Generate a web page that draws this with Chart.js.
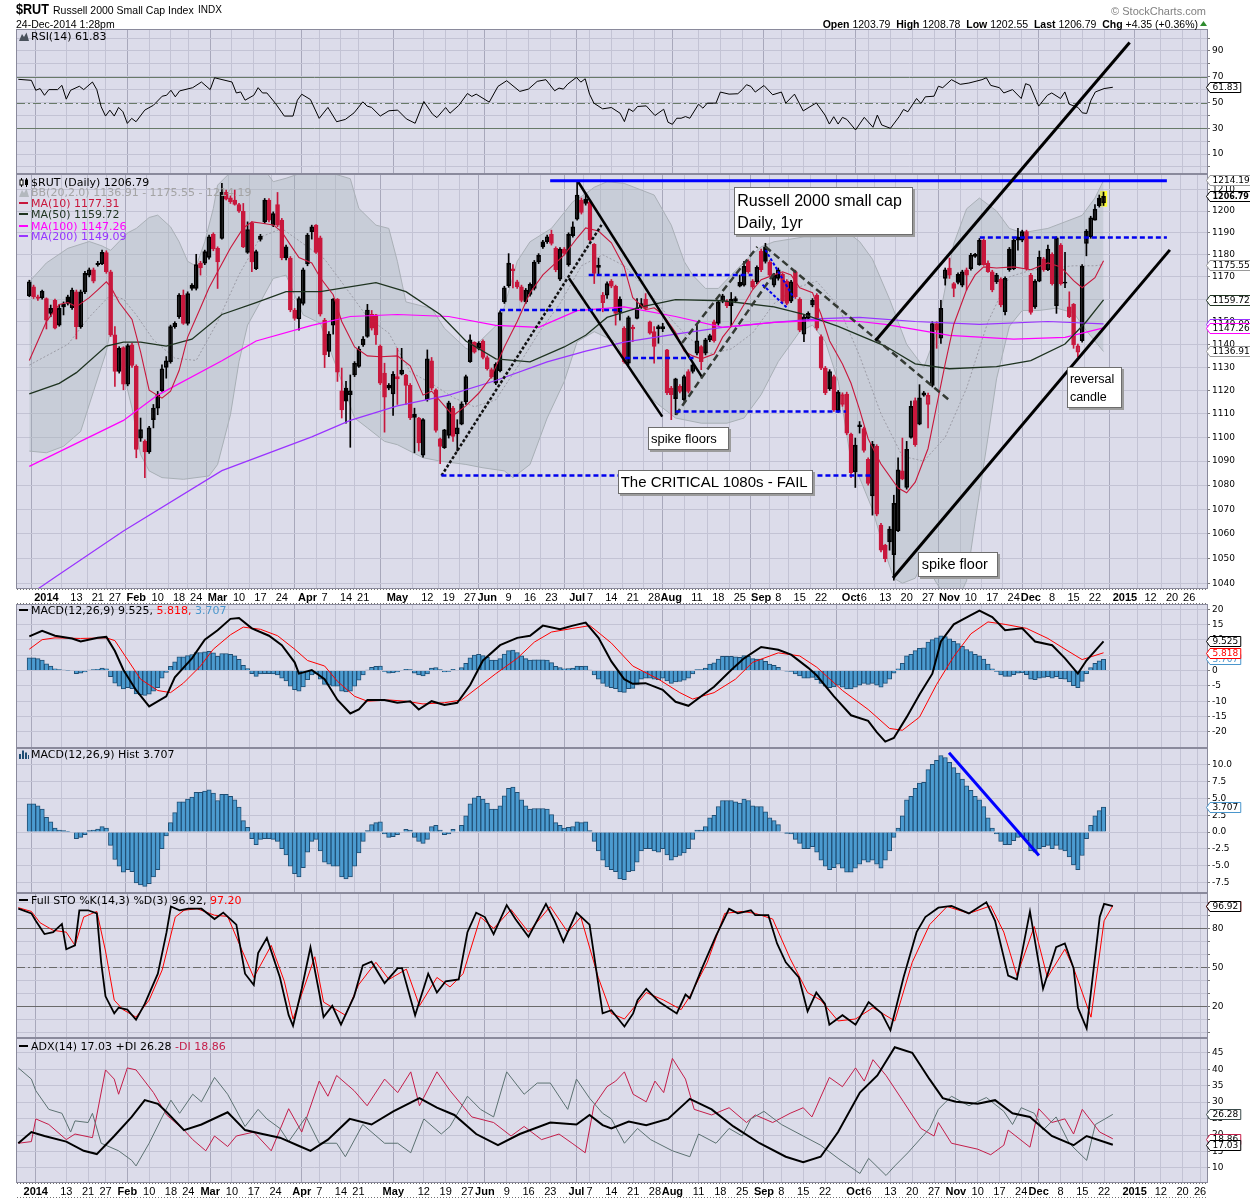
<!DOCTYPE html>
<html><head><meta charset="utf-8">
<script src="https://cdn.jsdelivr.net/npm/chart.js@4.4.1/dist/chart.umd.min.js"></script>
<style>
body{margin:0;background:#fff;}
#wrap{position:relative;width:1250px;height:1200px;overflow:hidden;background:#fff;font-family:"Liberation Sans",Arial,sans-serif;color:#000;}
canvas.pn{position:absolute;left:0;}
.lg{position:absolute;left:19px;font-family:"DejaVu Sans",sans-serif;font-size:11px;line-height:11px;white-space:nowrap;}
.lg svg{vertical-align:-1px;margin-right:2px;}
.dash{display:inline-block;width:9px;height:2px;vertical-align:3px;margin-right:3px;}
.note{position:absolute;box-sizing:border-box;background:#fff;border:1px solid #6d6d6d;box-shadow:2px 2px 0 #9c9c9c;white-space:nowrap;font-family:"Liberation Sans",Arial,sans-serif;color:#000;}
.hd{position:absolute;white-space:nowrap;line-height:12px;}
</style></head>
<body><div id="wrap">

<canvas class="pn" id="cRsi" width="1250" height="145" style="top:29px;width:1250px;height:145px"></canvas>
<canvas class="pn" id="cPrice" width="1250" height="430" style="top:174px;width:1250px;height:430px"></canvas>
<canvas class="pn" id="cMacd" width="1250" height="144" style="top:604px;width:1250px;height:144px"></canvas>
<canvas class="pn" id="cHist" width="1250" height="145" style="top:748px;width:1250px;height:145px"></canvas>
<canvas class="pn" id="cSto" width="1250" height="145" style="top:893px;width:1250px;height:145px"></canvas>
<canvas class="pn" id="cAdx" width="1250" height="160" style="top:1038px;width:1250px;height:160px"></canvas>
<canvas id="overlay" width="1250" height="1200" style="position:absolute;left:0;top:0;width:1250px;height:1200px;pointer-events:none"></canvas>

<div class="hd" style="left:16px;top:2px;font-size:14px;line-height:14px;font-weight:bold;transform:scaleX(0.9);transform-origin:left top;">$RUT</div>
<div class="hd" style="left:53px;top:3.7px;font-size:10.5px;">Russell 2000 Small Cap Index</div>
<div class="hd" style="left:198px;top:3.5px;font-size:10px;">INDX</div>
<div class="hd" style="left:16px;top:17.5px;font-size:10.5px;">24-Dec-2014 1:28pm</div>
<div class="hd" style="right:44px;top:5px;font-size:11px;color:#808080;">&copy; StockCharts.com</div>
<div class="hd" style="right:52px;top:17.5px;font-size:10.5px;"><b>Open</b> 1203.79&nbsp;&nbsp;<b>High</b> 1208.78&nbsp;&nbsp;<b>Low</b> 1202.55&nbsp;&nbsp;<b>Last</b> 1206.79&nbsp;&nbsp;<b>Chg</b> +4.35 (+0.36%)</div>
<svg style="position:absolute;left:1200px;top:21px" width="7" height="5"><polygon points="0,5 3.5,0 7,5" fill="#2e8b2e"/></svg>

<div class="lg" style="top:30.7px"><svg width="10" height="9"><polygon points="0,9 3,2 5,5 7.5,0.5 10,9" fill="#4a525c"/></svg>RSI(14) 61.83</div>
<div class="lg" style="top:176.7px"><svg width="10" height="9"><line x1="2.5" y1="0" x2="2.5" y2="9" stroke="#000"/><rect x="1" y="2" width="3" height="5" fill="#fff" stroke="#000" stroke-width="1"/><line x1="7.5" y1="0" x2="7.5" y2="9" stroke="#000"/><rect x="6" y="1.5" width="3" height="5.5" fill="#000"/></svg>$RUT (Daily) 1206.79</div>
<div class="lg" style="top:187.4px;color:#a4a4a4"><svg width="10" height="9"><polygon points="0,9 3,2 5,5 7.5,0.5 10,9" fill="#b3b8be"/></svg>BB(20,2.0) 1136.91 - 1175.55 - 1214.19</div>
<div class="lg" style="top:198px;color:#c8173c"><span class="dash" style="background:#c8173c"></span>MA(10) 1177.31</div>
<div class="lg" style="top:209.4px;color:#1e3320"><span class="dash" style="background:#1e3320"></span>MA(50) 1159.72</div>
<div class="lg" style="top:220.7px;color:#ff00ff"><span class="dash" style="background:#ff00ff"></span>MA(100) 1147.26</div>
<div class="lg" style="top:231.4px;color:#9933ff"><span class="dash" style="background:#9933ff"></span>MA(200) 1149.09</div>
<div class="lg" style="top:604.6px"><span class="dash" style="background:#000"></span>MACD(12,26,9) 9.525, <span style="color:#ff0000">5.818,</span> <span style="color:#4a96cc">3.707</span></div>
<div class="lg" style="top:749.4px"><svg width="10" height="9"><rect x="0" y="4" width="2" height="5" fill="#1f4e74"/><rect x="3" y="0.5" width="2" height="8.5" fill="#1f4e74"/><rect x="6" y="2.5" width="2" height="6.5" fill="#1f4e74"/><rect x="9" y="5" width="1" height="4" fill="#1f4e74"/></svg>MACD(12,26,9) Hist 3.707</div>
<div class="lg" style="top:894.7px"><span class="dash" style="background:#000"></span>Full STO %K(14,3) %D(3) 96.92, <span style="color:#ff0000">97.20</span></div>
<div class="lg" style="top:1040.7px"><span class="dash" style="background:#000"></span>ADX(14) 17.03 +DI 26.28 <span style="color:#c41e4a">-DI 18.86</span></div>

<div class="note" style="left:734px;top:187px;width:179px;height:48px;font-size:16px;line-height:21.6px;padding:2.3px 0 0 2.3px;">Russell 2000 small cap<br>Daily, 1yr</div>
<div class="note" style="left:647.7px;top:426.7px;width:81.6px;height:23.6px;font-size:13px;line-height:21.6px;padding-left:2.3px;">spike floors</div>
<div class="note" style="left:617.7px;top:470px;width:195.6px;height:24.3px;font-size:15px;line-height:22.3px;padding-left:2px;">The CRITICAL 1080s - FAIL</div>
<div class="note" style="left:918.3px;top:551.7px;width:80px;height:25px;font-size:14.5px;line-height:23px;padding-left:2.4px;">spike floor</div>
<div class="note" style="left:1066.7px;top:366.7px;width:55px;height:41.6px;font-size:12.5px;line-height:17.4px;padding:3.6px 0 0 2.2px;">reversal<br>candle</div>

</div>
<script>
// ---------------- DATA ----------------
// trading-day index 0 = 2-Jan-2014; first candle is day -4 (26-Dec-2013)
const START_DAY = -4;
const opens = [
1161.5,1165.5,1161.1,1160.6,1160.3,1153.7,1159.5,1148.5,1157.7,1161.1,
1156.2,1163.3,1147.8,1163.3,1170.8,1173.2,1176.1,1175.8,1181.0,1172.3,
1144.2,1128.2,1138.6,1122.7,1139.8,1130.4,1099.7,1098.3,1093.9,1107.5,
1112.4,1119.9,1130.0,1132.5,1147.8,1152.2,1161.8,1149.3,1166.3,1164.8,
1176.2,1176.2,1178.8,1189.3,1182.9,1187.4,1208.6,1206.1,1205.1,1203.0,
1199.9,1181.1,1194.3,1173.7,1187.0,1195.0,1205.1,1193.5,1203.0,1195.8,
1183.6,1178.5,1155.2,1151.2,1158.1,1175.8,1190.5,1193.5,1187.7,1150.7,
1136.9,1148.5,1160.0,1119.9,1121.0,1118.2,1126.7,1130.4,1139.8,1143.5,
1153.3,1153.0,1139.3,1127.5,1122.2,1118.5,1126.0,1127.0,1126.7,1122.2,
1109.9,1108.2,1092.5,1116.0,1132.8,1120.3,1099.4,1095.6,1100.8,1112.4,
1101.4,1105.6,1115.1,1132.5,1140.9,1138.3,1141.5,1134.3,1129.0,1123.2,
1128.5,1158.8,1166.0,1173.6,1167.8,1165.5,1158.8,1162.1,1164.8,1176.7,
1185.9,1185.9,1189.3,1182.9,1169.0,1182.6,1175.5,1188.7,1196.3,1205.1,
1205.5,1204.3,1184.7,1175.2,1158.5,1161.8,1168.1,1165.8,1160.0,1147.1,
1131.8,1147.5,1151.5,1156.6,1160.0,1150.0,1145.6,1147.8,1146.8,1137.6,
1121.0,1116.5,1119.6,1116.1,1128.2,1128.2,1136.2,1139.1,1136.2,1142.0,
1150.0,1149.3,1159.1,1159.1,1157.1,1159.1,1167.5,1166.3,1177.0,1168.1,
1167.8,1181.7,1183.6,1176.7,1166.3,1169.3,1171.1,1168.1,1159.1,1172.3,
1160.0,1144.5,1151.5,1157.4,1161.8,1143.5,1129.7,1120.7,1126.0,1111.3,
1114.0,1118.5,1101.4,1085.5,1105.3,1103.7,1090.7,1075.5,1096.2,1063.5,
1055.4,1056.7,1051.5,1061.1,1085.9,1079.0,1100.0,1115.7,1105.6,1118.0,
1114.0,1122.2,1149.2,1142.7,1169.3,1174.0,1167.0,1171.1,1166.3,1173.2,
1173.7,1179.2,1175.5,1186.6,1176.2,1172.3,1167.8,1169.0,1154.4,1182.6,
1173.7,1188.0,1186.6,1190.5,1170.8,1156.6,1168.1,1178.2,1173.2,1180.2,
1157.1,1184.4,1167.5,1156.6,1157.7,1136.6,1141.6,1185.1,1188.2,1195.8,
1206.0,1203.79];
const highs = [
1168.5,1166.3,1161.8,1164.1,1160.6,1157.4,1160.0,1157.5,1158.8,1161.8,
1165.0,1164.1,1164.1,1172.5,1174.0,1174.0,1177.0,1182.1,1181.8,1173.0,
1147.8,1139.0,1139.0,1140.2,1140.5,1131.1,1108.2,1099.0,1104.7,1114.0,
1119.6,1131.1,1134.7,1148.5,1150.0,1162.5,1164.1,1163.3,1167.0,1180.2,
1177.0,1182.1,1189.0,1190.0,1183.6,1212.8,1209.7,1207.0,1209.7,1203.6,
1203.5,1195.0,1195.0,1182.1,1189.3,1205.8,1205.8,1199.6,1208.6,1196.6,
1184.4,1179.2,1155.9,1161.1,1174.0,1189.7,1193.5,1193.8,1188.5,1151.5,
1145.6,1160.3,1160.3,1129.7,1123.9,1126.7,1132.5,1139.1,1143.5,1157.7,
1155.0,1153.3,1139.8,1131.8,1123.0,1128.2,1138.3,1138.3,1127.0,1123.0,
1112.4,1108.5,1108.0,1137.6,1134.3,1120.7,1099.7,1103.4,1115.4,1113.2,
1107.5,1115.1,1126.7,1144.2,1141.2,1141.2,1142.0,1135.0,1129.7,1132.0,
1154.8,1165.8,1180.5,1175.5,1168.5,1166.3,1164.8,1167.3,1177.4,1180.5,
1186.6,1189.0,1191.2,1183.6,1183.3,1183.3,1190.0,1195.0,1213.9,1206.0,
1208.2,1205.1,1185.1,1178.5,1163.0,1167.8,1168.8,1166.3,1161.1,1147.8,
1152.5,1148.5,1160.3,1160.3,1162.5,1150.3,1147.8,1148.5,1149.3,1137.9,
1121.8,1125.3,1122.5,1126.7,1129.0,1131.8,1148.5,1139.5,1142.7,1144.5,
1150.7,1159.5,1162.2,1159.8,1163.0,1161.1,1170.8,1177.0,1177.7,1168.8,
1175.0,1182.6,1185.2,1177.4,1171.6,1174.0,1171.8,1168.8,1168.5,1173.0,
1160.7,1153.0,1154.4,1160.3,1162.5,1144.2,1130.4,1129.0,1126.7,1120.0,
1119.0,1119.3,1101.8,1099.7,1106.7,1104.4,1091.4,1098.3,1096.9,1064.2,
1055.7,1062.9,1075.8,1091.4,1099.7,1098.3,1115.4,1116.8,1122.5,1119.6,
1118.9,1150.0,1150.0,1159.5,1174.0,1178.5,1167.5,1171.8,1173.0,1174.0,
1180.6,1180.6,1187.4,1187.1,1177.2,1173.0,1171.6,1169.6,1170.0,1183.3,
1187.4,1192.0,1191.2,1191.2,1171.6,1168.8,1181.7,1178.8,1184.4,1180.9,
1188.2,1185.1,1181.1,1163.3,1158.1,1140.2,1175.5,1191.5,1197.6,1203.0,
1207.4,1208.78];
const lows = [
1161.1,1160.3,1159.5,1160.0,1146.8,1152.2,1146.8,1148.0,1153.0,1157.4,
1155.5,1142.4,1147.1,1162.5,1170.0,1167.3,1174.8,1175.5,1171.6,1143.5,
1121.8,1127.5,1120.3,1122.0,1130.0,1091.4,1098.3,1083.1,1093.2,1104.0,
1109.6,1119.6,1125.3,1131.8,1147.1,1151.5,1148.8,1148.5,1164.0,1164.1,
1170.8,1175.5,1178.0,1181.8,1164.8,1187.1,1205.1,1203.5,1202.7,1199.3,
1183.2,1180.6,1172.3,1173.2,1186.2,1194.3,1195.0,1192.8,1192.8,1177.7,
1177.7,1154.4,1150.7,1146.3,1157.4,1175.0,1187.1,1180.6,1152.5,1129.9,
1134.7,1144.5,1123.9,1108.2,1106.0,1095.8,1126.0,1130.0,1139.1,1143.1,
1146.3,1140.0,1122.5,1102.2,1120.3,1109.3,1114.0,1126.7,1114.0,1107.5,
1093.5,1094.2,1091.7,1115.4,1120.3,1102.2,1088.9,1095.3,1099.7,1098.3,
1094.2,1105.3,1114.0,1132.2,1136.2,1137.6,1133.7,1128.8,1125.3,1122.5,
1128.0,1158.1,1165.3,1165.0,1164.8,1158.8,1158.1,1161.4,1164.1,1176.0,
1182.9,1185.1,1184.4,1172.3,1168.3,1179.9,1174.8,1188.0,1195.8,1198.6,
1202.7,1186.2,1167.0,1170.8,1154.4,1160.3,1165.1,1148.5,1150.7,1131.8,
1131.1,1141.2,1151.2,1155.9,1155.5,1144.5,1131.8,1140.5,1145.6,1118.2,
1107.5,1109.6,1118.9,1115.4,1118.9,1127.5,1135.4,1129.0,1135.4,1141.2,
1141.0,1148.5,1158.4,1156.2,1147.8,1158.4,1165.5,1165.8,1171.6,1164.8,
1167.0,1172.3,1176.2,1170.0,1165.5,1168.5,1158.4,1157.4,1158.4,1160.3,
1145.6,1141.2,1150.7,1156.6,1146.3,1129.0,1118.2,1120.0,1111.0,1110.6,
1113.2,1101.1,1083.1,1079.0,1101.8,1093.8,1080.0,1067.6,1067.3,1052.6,
1048.6,1053.3,1041.2,1060.8,1082.2,1078.3,1099.7,1096.2,1105.3,1117.5,
1104.0,1121.5,1138.3,1140.5,1166.3,1169.3,1161.1,1166.8,1165.5,1164.1,
1173.0,1178.8,1175.2,1175.2,1172.0,1163.3,1167.0,1156.6,1153.0,1172.5,
1173.2,1182.1,1185.9,1173.0,1153.3,1155.9,1167.8,1172.5,1172.8,1166.3,
1153.7,1166.3,1165.1,1151.8,1138.3,1134.7,1141.0,1179.5,1187.5,1195.8,
1201.8,1202.55];
const closes = [
1167.8,1161.1,1160.3,1163.6,1150.7,1155.9,1147.1,1155.9,1156.6,1158.1,
1164.1,1147.8,1163.3,1171.6,1173.2,1168.1,1175.5,1181.1,1172.3,1144.2,
1128.2,1138.3,1122.7,1139.5,1130.8,1094.9,1103.3,1093.9,1104.0,1112.4,
1118.2,1129.4,1132.8,1147.8,1149.3,1161.8,1149.3,1162.5,1164.8,1175.5,
1174.0,1181.4,1188.2,1182.6,1176.7,1208.6,1205.5,1204.3,1203.0,1199.9,
1183.6,1191.5,1176.7,1181.4,1188.5,1205.1,1195.8,1198.8,1193.5,1178.5,
1178.5,1155.2,1151.5,1160.3,1173.2,1189.0,1192.7,1181.1,1153.3,1135.4,
1144.5,1160.0,1127.9,1111.7,1115.4,1119.9,1131.8,1138.0,1142.4,1155.2,
1147.1,1144.2,1123.2,1117.1,1121.0,1127.0,1125.0,1128.8,1122.2,1108.2,
1108.5,1097.6,1107.5,1133.7,1121.0,1102.9,1096.2,1103.2,1114.7,1100.4,
1104.0,1114.3,1126.0,1142.0,1136.6,1140.5,1134.3,1129.4,1126.0,1131.4,
1154.1,1165.1,1176.2,1172.8,1165.5,1159.5,1164.1,1166.6,1176.7,1179.7,
1183.6,1188.2,1185.1,1173.2,1182.6,1180.6,1189.3,1192.7,1207.4,1199.3,
1203.5,1186.6,1171.6,1174.3,1161.8,1167.0,1165.8,1153.7,1154.1,1132.5,
1151.8,1146.8,1156.2,1158.1,1155.9,1144.9,1139.1,1146.8,1147.8,1118.9,
1118.2,1125.0,1121.8,1126.0,1119.6,1131.1,1141.6,1132.5,1142.0,1143.9,
1141.6,1158.8,1161.5,1157.1,1160.0,1160.3,1165.8,1174.8,1172.3,1165.5,
1174.3,1173.2,1177.0,1170.8,1170.8,1173.2,1159.1,1158.1,1167.8,1161.1,
1146.3,1152.2,1153.7,1159.5,1147.1,1129.7,1118.9,1128.2,1111.7,1119.3,
1118.2,1101.8,1085.2,1096.7,1104.5,1094.5,1080.7,1097.2,1068.0,1053.3,
1049.9,1061.9,1072.4,1086.3,1082.6,1094.9,1113.2,1096.9,1116.8,1119.0,
1117.9,1149.2,1146.3,1155.9,1173.2,1170.8,1164.8,1167.5,1172.3,1170.8,
1179.9,1180.2,1186.6,1175.5,1172.3,1164.1,1170.8,1157.4,1169.3,1173.2,
1186.6,1186.6,1190.5,1173.7,1154.1,1168.1,1178.8,1173.2,1182.6,1167.0,
1187.7,1167.0,1167.2,1152.2,1139.8,1139.4,1174.8,1190.8,1196.9,1200.9,
1202.44,1206.79];

// overlays on price, read as [trading day, value]
const ma10 = [[-4,1133],[-2,1141.5],[0,1150.1],[3,1157.6],[5,1158.5],[7,1156.7],[10,1160.7],[12,1164.2],[14,1167.8],[15,1165.6],[17,1158.5],[20,1151.0],[22,1136.7],[24,1120.1],[27,1116.7],[29,1119.7],[31,1128.6],[33,1143.2],[36,1156.2],[38,1165.1],[40,1172.3],[43,1183.1],[46,1192.2],[48,1195.0],[50,1194.5],[53,1193.6],[55,1190.4],[57,1184.5],[59,1178.7],[62,1176.3],[64,1169.6],[67,1162.0],[69,1150.1],[72,1138.9],[75,1135.0],[78,1134.6],[82,1135.0],[85,1130.7],[88,1118.0],[90,1119.7],[93,1113.4],[95,1109.2],[98,1113.4],[101,1118.8],[104,1126.0],[107,1138.9],[110,1150.1],[113,1162.9],[116,1170.9],[119,1176.3],[121,1179.9],[124,1187.6],[126,1192.2],[129,1190.8],[132,1185.4],[135,1174.5],[137,1160.7],[140,1155.3],[142,1156.2],[144,1153.2],[147,1145.3],[149,1137.1],[151,1135.0],[153,1133.7],[156,1135.8],[158,1143.2],[160,1148.0],[163,1157.6],[165,1164.2],[167,1168.7],[170,1170.9],[172,1172.3],[174,1170.9],[176,1165.1],[179,1162.9],[181,1153.2],[183,1141.5],[186,1131.5],[188,1123.1],[190,1111.8],[192,1099.4],[195,1088.8],[199,1078.8],[201,1076.8],[203,1081.2],[206,1095.3],[208,1113.4],[210,1131.5],[212,1148.8],[215,1164.2],[217,1170.9],[219,1174.5],[222,1174.0],[226,1174.5],[230,1173.2],[234,1176.3],[237,1174.5],[240,1168.3],[242,1165.1],[245,1169.6],[247,1177.31]];
const ma50 = [[-4,1118.5],[3,1123.1],[7,1127.7],[14,1139.3],[18,1141.0],[22,1141.0],[28,1139.3],[34,1142.3],[41,1153.2],[49,1158.5],[56,1163.4],[64,1163.4],[77,1167.4],[84,1163.4],[92,1153.2],[98,1141.5],[105,1133.7],[113,1132.4],[121,1138.9],[126,1144.0],[131,1151.9],[139,1156.6],[147,1159.8],[158,1159.3],[170,1156.6],[177,1153.2],[185,1147.9],[190,1144.0],[196,1139.3],[203,1131.5],[211,1129.4],[222,1130.3],[230,1132.9],[238,1140.2],[243,1150.1],[247,1159.72]];
const ma100 = [[-4,1087.8],[18,1107.2],[26,1118.0],[41,1132.9],[49,1141.5],[62,1148.4],[71,1152.3],[82,1153.2],[94,1152.3],[105,1148.4],[115,1147.5],[124,1154.9],[135,1156.6],[147,1152.3],[158,1147.5],[170,1149.7],[181,1150.6],[190,1150.1],[196,1148.8],[211,1144.0],[226,1142.3],[238,1143.1],[247,1147.26]];
const ma200 = [[-4,1035.4],[2,1042.4],[18,1061.1],[41,1086.0],[62,1100.2],[71,1107.2],[82,1113.4],[94,1118.0],[105,1124.3],[117,1132.4],[126,1137.1],[135,1141.0],[147,1144.5],[158,1147.5],[170,1149.7],[181,1151.4],[190,1151.9],[203,1150.1],[218,1148.8],[234,1150.1],[247,1149.09]];
const bbUpper = [[-4,1167.8],[0,1176.3],[5,1182.9],[10,1186],[13,1184],[15,1182],[17,1186],[19,1190],[21,1192],[24,1197],[26,1198.1],[29,1192.7],[31,1185.9],[33,1177.0],[35,1174.8],[37,1185.9],[39,1201.2],[40,1212],[43,1218],[46,1222],[50,1222],[53,1213.6],[56,1215.2],[60,1218],[66,1218],[71,1215],[73,1201.2],[77,1193.5],[80,1192],[82,1177],[84,1158.8],[90,1155.9],[93,1147.1],[98,1138.3],[99,1137.6],[102,1142.7],[106,1150],[110,1177],[113,1185.9],[118,1192],[123,1204.3],[126,1208],[128,1211],[131,1213.6],[135,1212.8],[142,1207.4],[146,1193.5],[149,1177],[151,1170.8],[154,1164.8],[157,1164.8],[160,1170.8],[164,1178.5],[167,1183.6],[170,1185.9],[177,1188.1],[183,1188.1],[188,1189],[190,1186],[193,1178],[197,1160],[201,1140],[205,1130],[208,1145],[210,1165],[212,1185],[215,1201],[218,1206],[222,1200],[225,1192],[228,1190],[234,1192],[238,1195],[242,1198],[245,1206],[247,1214.19]];
const bbLower = [[-4,1094.2],[0,1093.5],[4,1096.2],[8,1102.5],[11,1119.6],[14,1136.9],[15,1146.8],[17,1135.4],[20,1112.4],[22,1092.8],[24,1085.9],[27,1083.1],[32,1082.4],[38,1083.8],[40,1088.6],[43,1109.6],[45,1132.5],[47,1148.5],[50,1158.8],[53,1169.3],[56,1170.8],[60,1153],[64,1149.3],[69,1123.9],[72,1108.2],[75,1104],[79,1098.3],[82,1096.9],[88,1091.4],[92,1090],[98,1088.6],[102,1087.2],[107,1085.9],[109,1083.1],[113,1088.6],[117,1108.2],[121,1123.9],[124,1141.2],[128,1145.6],[133,1141.2],[137,1126.7],[142,1115.4],[147,1108.2],[153,1106],[159,1106],[163,1108.2],[167,1118.2],[171,1132.5],[176,1145.6],[179,1148.5],[182,1141.2],[185,1123.9],[188,1090],[190,1083],[193,1070],[196,1052],[198,1042],[200,1040],[203,1042],[205,1049],[208,1040],[210,1035],[212,1030],[215,1041],[217,1065],[220,1100],[222,1125],[225,1148],[228,1155],[232,1155],[236,1156],[240,1154],[243,1146],[247,1136.91]];
const bbMiddle = [[-4,1131],[0,1135],[5,1140],[10,1152],[15,1162],[18,1160],[21,1153],[25,1142],[30,1134],[35,1133],[40,1150],[45,1171],[50,1188],[55,1192],[60,1185],[65,1178],[70,1165],[75,1152],[80,1145],[85,1128],[90,1123],[95,1117],[100,1113],[105,1116],[110,1130],[115,1145],[120,1158],[125,1175],[130,1180],[135,1175],[140,1165],[145,1153],[150,1143],[155,1136],[160,1138],[165,1145],[170,1158],[175,1165],[180,1168],[185,1157],[190,1135],[195,1110],[200,1092],[205,1090],[210,1100],[215,1121],[220,1150],[225,1170],[230,1173],[235,1174],[240,1175],[245,1175],[247,1175.55]];

const rsi14 = [[-4,68],[-1,67.2],[0,59.5],[1,60.8],[2,55.6],[3,60],[5,60],[6,63.3],[7,52.6],[8,59.5],[10,62.6],[11,60],[13,65.9],[14,60],[15,46.7],[16,39.5],[17,44.1],[18,39.5],[19,46.2],[20,42.8],[21,33.8],[22,37.7],[23,35.1],[25,44.1],[27,47.9],[29,54.9],[30,55.6],[31,59.5],[32,54.4],[33,59],[36,61.5],[38,65.9],[40,60],[41,69.2],[45,65.9],[46,57.4],[47,58.2],[48,51.8],[50,55.6],[51,61.5],[52,57.4],[53,57.4],[55,49.2],[57,39.5],[59,39.5],[60,51.8],[61,56.4],[63,52.3],[65,37.7],[67,46.2],[69,35.1],[71,36.9],[73,42],[75,50.5],[76,47.2],[77,46.2],[79,39.5],[81,43.6],[83,44.1],[85,37.3],[87,33.9],[89,50.8],[91,40.9],[92,38.3],[94,46.1],[95,41.7],[97,47.7],[99,57],[100,54.7],[101,56.5],[104,50.3],[106,62.5],[108,66.9],[111,58.6],[113,60.4],[115,66.4],[117,67.7],[119,59.1],[120,61.2],[121,60.4],[122,64.3],[124,69.5],[125,65.8],[126,68.4],[127,56.5],[128,49.5],[130,45.1],[132,46.1],[134,41.7],[135,35.2],[136,45.1],[137,43],[138,46.9],[140,47.4],[142,39.9],[144,44.8],[145,34.7],[146,33.1],[147,37.8],[148,37.8],[149,39.1],[150,37.8],[152,48.7],[153,45.6],[154,49.5],[156,49.5],[157,58.1],[159,56.5],[161,56.8],[162,59.9],[163,63.8],[164,62.5],[165,58.1],[167,63.2],[169,56],[171,58.1],[172,49.5],[174,56.5],[176,43.5],[179,49.7],[181,40.3],[182,33.3],[183,39],[184,33.3],[185,38.5],[186,36.9],[188,28.7],[190,38.5],[192,30.8],[193,40.3],[194,32.6],[196,30],[198,39],[199,44.6],[200,42.8],[202,53.1],[203,49.2],[204,54.4],[206,54.9],[207,62.6],[208,61.5],[210,67.7],[212,64.1],[214,65.1],[217,67.7],[218,69.2],[219,63.3],[221,61.5],[222,57.4],[224,60],[226,53.1],[227,64.6],[228,63.3],[230,47.2],[232,55.6],[233,57.4],[235,53.1],[236,58.2],[237,48.7],[239,46.2],[240,42],[241,41.5],[242,51.8],[243,58.2],[245,60.8],[247,61.83]];

const macdLine = [[-4,11.2],[-1,13.0],[2,11.4],[6,10.5],[8,9.5],[12,10.7],[14,11.0],[16,6.4],[18,0.2],[21,-6.5],[24,-11.7],[28,-8.4],[30,-2.2],[34,4.0],[37,10.1],[40,13.2],[43,16.9],[45,17.2],[48,13.8],[52,11.4],[55,8.3],[58,2.7],[59,-1.0],[62,0.2],[65,-2.8],[68,-9.6],[71,-14.0],[73,-12.7],[75,-9.6],[79,-9.6],[82,-10.5],[85,-10.0],[87,-12.7],[90,-10.0],[93,-11.2],[96,-10.5],[99,-4.7],[102,3.3],[106,8.3],[110,10.7],[113,11.4],[116,14.7],[120,13.5],[123,14.7],[126,15.7],[129,10.7],[132,3.0],[135,-2.8],[137,-4.3],[140,-4.1],[144,-6.3],[147,-10.2],[150,-11.5],[153,-8.4],[156,-5.3],[160,0.2],[163,4.0],[167,7.7],[171,6.8],[174,5.2],[178,0.9],[180,-1.6],[184,-8.4],[188,-14.6],[192,-16.4],[194,-20.1],[196,-23.2],[198,-22.0],[201,-15.2],[204,-7.8],[207,-1.0],[209,9.5],[212,15.1],[216,18.1],[218,19.6],[221,17.5],[224,13.2],[228,13.8],[231,9.5],[235,8.3],[238,4.0],[241,-1.0],[243,3.3],[247,9.525]];
const macdSignal = [[-4,7.0],[-1,10.1],[2,10.7],[8,10.5],[14,10.7],[16,9.8],[19,3.5],[22,-2.8],[26,-6.5],[29,-7.2],[32,-4.1],[36,1.5],[39,7.0],[43,11.7],[46,14.2],[50,13.5],[54,11.4],[58,7.0],[61,3.3],[65,1.5],[68,-3.5],[72,-8.4],[75,-10.0],[80,-9.6],[84,-10.0],[88,-10.9],[93,-10.5],[97,-9.6],[101,-5.3],[105,-1.0],[110,4.0],[114,9.3],[118,12.6],[123,13.8],[127,14.7],[132,9.0],[137,1.5],[143,-2.8],[148,-7.2],[151,-9.3],[156,-7.2],[161,-2.8],[165,2.7],[171,5.8],[176,4.8],[180,1.1],[186,-6.5],[192,-12.7],[197,-18.9],[200,-19.5],[204,-15.2],[208,-4.5],[212,4.6],[216,12.0],[220,15.9],[224,15.1],[229,13.8],[234,10.5],[238,7.0],[242,3.6],[247,5.818]];
// histogram, one value per trading day from START_DAY
const macdHist = [
4.2,4.2,3.9,3.4,2.2,1.5,0.6,0.3,0.2,0.1,
0,-1.0,-0.8,-0.4,0.2,0.3,0.45,0.8,0.6,-2.0,
-4.1,-5.1,-6.0,-5.6,-5.9,-7.6,-7.9,-8.1,-7.7,-6.7,
-5.6,-2.5,-0.6,1.4,2.9,4.5,4.5,4.9,5.2,5.9,
5.9,6.1,6.3,5.8,4.7,5.6,5.6,5.3,4.8,3.7,
1.7,0.7,-1.0,-1.9,-1.1,-1.0,-1.0,-1.1,-1.4,-2.5,
-3.4,-5.1,-6.2,-6.7,-5.3,-3.0,-1.4,-1.1,-2.8,-4.5,
-4.8,-5.1,-5.1,-6.7,-7.0,-6.7,-5.1,-3.1,-1.4,0.2,
1.1,1.4,1.5,-0.3,-0.8,-0.7,-0.4,0,0.4,0.3,
-0.8,-1.4,-1.7,-1.1,0.8,1.0,0.3,-0.4,-0.3,0.4,
0,1.0,2.4,4.2,5.1,5.3,4.9,4.3,3.4,3.4,
3.9,5.4,6.5,6.7,5.9,4.8,3.9,3.4,3.5,3.5,
3.5,3.4,2.6,1.4,1.0,0.6,0.7,0.8,1.5,1.4,
1.5,0.2,-1.4,-2.8,-4.2,-5.2,-5.6,-5.9,-7.0,-7.1,
-5.9,-5.8,-4.5,-2.8,-2.5,-2.5,-2.8,-3.0,-2.5,-3.4,
-4.2,-3.7,-3.5,-3.1,-2.5,-1.1,0.3,0.3,0.8,2.1,
2.5,3.8,4.7,4.7,4.7,4.5,4.3,4.9,4.7,3.9,
3.8,3.8,3.0,2.1,1.7,1.1,0,-0.2,-0.3,-1.1,
-1.7,-2.5,-2.5,-2.2,-3.0,-4.2,-5.1,-5.6,-5.3,-4.8,
-5.4,-6.0,-6.0,-5.4,-4.8,-4.2,-4.5,-4.2,-4.8,-5.4,
-4.2,-2.8,-0.8,0.6,2.4,4.8,5.3,6.5,7.3,7.4,
9.3,10.1,10.7,11.4,11.1,10.4,9.6,8.8,7.9,6.9,
6.2,5.3,4.8,3.8,2.1,0.6,-0.3,-1.4,-1.9,-1.9,
-1.3,-0.8,-0.7,-1.3,-2.8,-3.0,-2.5,-2.2,-2.0,-2.5,
-2.0,-2.6,-2.8,-3.7,-4.9,-5.6,-3.5,-1.0,1.0,2.4,
3.2,3.707];

const stoK = [[-4,95],[-1,91.4],[0,85.7],[2,75.5],[4,77],[6,83.3],[7,63.9],[9,66.8],[10,93.8],[12,93.8],[14,91.4],[15,53.8],[16,27.7],[18,14.6],[19,19],[21,17.5],[23,9.7],[25,21.9],[28,45.1],[30,77],[31,96.7],[33,93.8],[35,95],[38,95],[41,87.1],[43,92],[46,82.8],[48,45.1],[50,36.4],[51,61],[53,72.6],[56,42.2],[58,13.2],[59,5.1],[61,33.5],[63,65.4],[65,30.6],[66,11.7],[68,20.4],[70,5.9],[73,27.7],[75,51.4],[77,54.3],[80,37.8],[83,49.4],[84,49.4],[87,13.2],[90,45.1],[92,30.6],[94,39.3],[97,40.7],[99,77],[101,92],[103,88.6],[105,75.5],[108,97.8],[110,87.1],[113,73.5],[117,98.7],[119,85.7],[121,69.7],[124,92],[127,82.8],[130,14.6],[132,17],[135,4.5],[137,14.6],[138,24.8],[140,33.5],[143,23.3],[147,14.6],[149,29.1],[150,26.2],[153,50.9],[156,74.1],[159,94.9],[161,91.4],[164,93.8],[165,90],[168,90],[170,68.3],[172,53.8],[175,42.2],[177,16.1],[179,30.6],[181,21.9],[182,5.9],[185,13.2],[188,5.9],[191,23.3],[194,14.6],[196,1.6],[199,42.2],[202,77],[204,88.6],[207,95.8],[210,97.2],[214,91.4],[218,100],[220,85.7],[223,43.6],[225,40.7],[228,92.9],[231,33.5],[234,65.4],[236,68.3],[238,49.4],[239,19],[241,3.0],[244,88.6],[245,98.7],[247,96.92]];
const stoD = [[-4,95.8],[-1,92.9],[1,84.2],[4,78.4],[7,77],[9,66.8],[11,88.6],[14,92.9],[16,62.5],[18,24.8],[20,17.5],[23,11.7],[26,24.8],[29,48],[32,88.6],[34,93.8],[37,95],[41,90],[44,89.1],[47,65.4],[50,42.2],[54,66.8],[57,39.3],[59,10.3],[64,58.1],[66,23.3],[71,13.2],[74,36.4],[78,53.8],[81,40.7],[85,48.6],[88,20.4],[92,42.2],[95,34.9],[98,45.1],[102,88.6],[105,79.9],[109,94.3],[113,77],[118,96.7],[122,77],[125,88.6],[129,42.2],[132,14.6],[135,10.3],[140,30.6],[144,24.8],[148,17.5],[150,27.7],[154,53.8],[158,91.4],[162,92.9],[165,91.4],[169,87.1],[173,56.7],[177,30.6],[180,24.8],[184,8.8],[188,10.3],[192,19],[197,8.8],[201,53.8],[205,82.8],[209,96.7],[214,91.4],[219,97.2],[222,77],[225,43.6],[229,81.3],[232,42.2],[236,63.9],[238,49.4],[242,11.7],[245,85.7],[247,97.2]];

const adx14 = [[-4,17.5],[-1,20.9],[2,19.7],[7,18],[11,15.2],[14,14.2],[18,19.7],[22,25.5],[25,30.6],[28,29.5],[30,27],[34,21.5],[38,23.2],[44,26.9],[48,21.5],[52,20.3],[56,19.2],[60,16.9],[63,15.2],[67,18.6],[72,24.9],[77,23.2],[82,27.2],[88,31.2],[92,28.3],[96,26.1],[101,20.3],[106,16.9],[111,20.3],[118,23.8],[124,23.2],[127,26.1],[130,23],[132,22],[136,24.1],[140,23],[145,24.9],[150,31],[155,27.8],[160,22.6],[166,17.5],[172,13.4],[176,11.7],[180,13.4],[184,20.9],[189,32.9],[193,38.1],[197,46.7],[201,45],[205,36.9],[208,31.2],[211,30.1],[216,29.5],[220,30.6],[224,26.6],[228,25.5],[233,19.7],[238,16.9],[241,19.7],[247,17.03]];
const plusDI = [[-4,40.4],[-1,37],[0,33.5],[3,27.8],[6,26.6],[8,20.9],[9,24.3],[12,23.8],[13,26.6],[15,17.5],[19,15.2],[22,12.3],[23,10.6],[26,17.5],[29,25.5],[31,30.6],[33,26.6],[36,32.4],[38,30.1],[41,37.5],[44,32.4],[48,22.6],[51,27.8],[53,24.9],[56,22],[58,18],[62,25.5],[65,17.5],[69,17.5],[71,13.4],[75,23.2],[80,17.5],[83,17.5],[86,14.6],[89,24.9],[93,20.3],[95,22.6],[99,31.8],[102,27.8],[105,25.5],[108,39.2],[112,32.4],[115,35.8],[118,35.8],[122,27.8],[124,37],[127,31.2],[130,26.6],[132,24.9],[135,17.5],[138,22],[141,18.6],[146,15.2],[150,13.4],[152,20.3],[156,17.5],[159,22],[162,19.7],[164,24.9],[167,27.2],[171,23.2],[176,19.7],[180,16.9],[184,12.9],[189,8.3],[191,12.9],[195,7.7],[197,10.6],[200,14.6],[205,22],[207,27.8],[210,31.8],[214,28.9],[218,31.4],[222,27.2],[224,23.2],[226,28.3],[229,26.6],[231,21.5],[234,25.5],[237,17.5],[241,12.3],[243,23.2],[247,26.28]];
const minusDI = [[-4,17.5],[-1,18],[0,24.9],[3,23.2],[7,18.6],[9,20.3],[13,19.2],[16,39.8],[18,37],[19,32.4],[21,40.4],[23,39.8],[27,32.9],[30,26.1],[34,21.5],[36,18.6],[39,15.2],[41,19.7],[44,16.5],[46,19.7],[50,20.9],[54,15.2],[58,28],[61,20.9],[65,36.4],[67,31.8],[69,38.1],[73,33.5],[76,28.9],[80,37],[83,32.9],[86,39.2],[88,28.9],[92,39.2],[95,33.5],[100,25.5],[105,23.8],[109,19.7],[112,22.6],[116,18.6],[120,20.3],[123,17.5],[126,14.6],[128,28.9],[131,34.7],[133,36.4],[135,39.2],[137,32.4],[140,30.1],[142,36.4],[144,32.9],[146,43.3],[149,37],[151,27.8],[155,26.1],[159,28.3],[163,23.8],[165,26.1],[169,23.8],[173,26.6],[176,28.3],[178,25.5],[182,37.5],[185,34.7],[188,40.4],[190,36.4],[192,42.9],[195,38.1],[199,30.1],[203,22],[206,19.7],[207,23.8],[210,17.5],[216,15.7],[219,14],[222,16.9],[223,21.5],[228,16.3],[230,28],[233,23.8],[236,24.9],[238,20.3],[240,27.8],[244,20.9],[247,18.86]];

// axis ticks
const xTickDays = [0,7,12,16,21,26,31,35,40,45,50,55,61,65,70,74,82,89,94,99,103,108,113,118,124,127,132,137,142,146,152,157,162,167,171,176,181,188,191,196,201,206,211,216,221,226,230,235,240,245,252,258,263,267];
const xTickLabels = ['2014','13','21','27','Feb','10','18','24','Mar','10','17','24','Apr','7','14','21','May','12','19','27','Jun','9','16','23','Jul','7','14','21','28','Aug','11','18','25','Sep','8','15','22','Oct','6','13','20','27','Nov','10','17','24','Dec','8','15','22','2015','12','20','26'];
const priceTicks = [1040,1050,1060,1070,1080,1090,1100,1110,1120,1130,1140,1150,1160,1170,1180,1190,1200,1210];
const rsiTicks = [0,10,20,30,40,50,60,70,80,90,100];
const macdTicks = [-20,-15,-10,-5,0,5,10,15,20];
const histTicks = [-7.5,-5,-2.5,0,2.5,5,7.5,10];
const stoTicks = [0,10,20,30,40,50,60,70,80,90,100];
const adxTicks = [10,15,20,25,30,35,40,45];

// ---------------- STYLE / LAYOUT ----------------
const X_MIN = -4.3, X_MAX = 268.6;
const BG = '#dcdcea', GRID = '#c3c3d4', GRID_M = '#a8a8bb';
const RED = '#c8173c';
const xLabelOf = {}; const monthDay = new Set();
xTickDays.forEach((d, i) => { xLabelOf[d] = xTickLabels[i]; if (isNaN(+xTickLabels[i]) || xTickLabels[i].length === 4) monthDay.add(d); });
const pts = arr => arr.map(p => ({x: p[0], y: p[1]}));
const days = opens.map((_, i) => START_DAY + i);

Chart.defaults.font.family = 'DejaVu Sans';

function xAxis(showLabels) {
  return {
    type: 'linear', min: X_MIN, max: X_MAX, bounds: 'data', position: 'bottom',
    afterBuildTicks: s => { s.ticks = xTickDays.map(v => ({value: v})); },
    afterFit: s => { s.height = showLabels ? 15 : 0; s.paddingLeft = 0; s.paddingRight = 0; },
    grid: { color: c => (c.tick && monthDay.has(c.tick.value)) ? GRID_M : GRID, drawTicks: false, lineWidth: 1 },
    border: { display: false },
    ticks: {
      display: showLabels, autoSkip: false, maxRotation: 0, minRotation: 0, padding: 2, color: '#000',
      font: c => ({ family: 'Liberation Sans', size: 11, weight: (c.tick && monthDay.has(c.tick.value)) ? 'bold' : 'normal' }),
      callback: v => xLabelOf[v] || ''
    }
  };
}
function yAxis(min, max, ticks, fmt, type) {
  return {
    type: type || 'linear', min, max, position: 'right', bounds: 'data',
    afterBuildTicks: s => { s.ticks = ticks.map(v => ({value: v})); },
    afterFit: s => { s.width = 43; s.paddingTop = 0; s.paddingBottom = 0; },
    grid: { color: GRID, lineWidth: 1, drawTicks: true, tickLength: 3, tickColor: '#777' },
    border: { display: false },
    ticks: { callback: fmt, font: { family: 'DejaVu Sans', size: 9 }, color: '#000', padding: 2, autoSkip: false, maxRotation: 0 }
  };
}

function drawBox(ctx, x, y, b) {
  ctx.font = b.bold ? 'bold 8px "DejaVu Sans"' : '9px "DejaVu Sans"';
  const w = ctx.measureText(b.t).width + 5, h = 10, x0 = x + 3;
  ctx.beginPath();
  ctx.moveTo(x - 0.5, y); ctx.lineTo(x0, y - h / 2); ctx.lineTo(x0 + w, y - h / 2);
  ctx.lineTo(x0 + w, y + h / 2); ctx.lineTo(x0, y + h / 2); ctx.closePath();
  ctx.fillStyle = '#fff'; ctx.fill();
  ctx.strokeStyle = b.c; ctx.lineWidth = 1; ctx.stroke();
  ctx.fillStyle = b.tc || '#000'; ctx.textBaseline = 'middle'; ctx.textAlign = 'left';
  ctx.fillText(b.t, x0 + 2.5, y + 0.5);
}

function panelPlugin(cfg) {
  return {
    id: 'panel_' + Math.random().toString(36).slice(2),
    beforeDraw(chart) {
      const {ctx, chartArea: a} = chart;
      ctx.save(); ctx.fillStyle = BG; ctx.fillRect(a.left, a.top, a.right - a.left, a.bottom - a.top); ctx.restore();
    },
    beforeDatasetsDraw(chart) {
      const {ctx, chartArea: a} = chart;
      const ys = chart.scales.y, xs = chart.scales.x;
      ctx.save();
      (cfg.lines || []).forEach(l => {
        const py = Math.round(ys.getPixelForValue(l.v)) + 0.5;
        ctx.strokeStyle = l.color; ctx.lineWidth = 1; ctx.setLineDash(l.dash || []);
        ctx.beginPath(); ctx.moveTo(a.left, py); ctx.lineTo(a.right, py); ctx.stroke();
      });
      if (cfg.highlight) {
        const h = cfg.highlight;
        const x0 = xs.getPixelForValue(h.d0), x1 = xs.getPixelForValue(h.d1);
        const y0 = ys.getPixelForValue(h.v0), y1 = ys.getPixelForValue(h.v1);
        ctx.fillStyle = h.color; ctx.fillRect(x0, y0, x1 - x0, y1 - y0);
      }
      ctx.restore();
    },
    afterDraw(chart) {
      const {ctx, chartArea: a} = chart;
      ctx.save();
      ctx.strokeStyle = '#8a8a9c'; ctx.lineWidth = 1; ctx.setLineDash([]);
      ctx.strokeRect(a.left - 0.5, a.top + 0.5, a.right - a.left + 1, a.bottom - a.top - 1);
      if (cfg.xRow) {
        ctx.strokeStyle = '#707070'; ctx.setLineDash([1, 2]);
        ctx.beginPath(); ctx.moveTo(a.left, a.bottom + 0.5); ctx.lineTo(a.right, a.bottom + 0.5); ctx.stroke();
        ctx.beginPath(); ctx.moveTo(a.left, chart.height - 0.5); ctx.lineTo(a.right, chart.height - 0.5); ctx.stroke();
      }
      ctx.setLineDash([]);
      (cfg.boxes || []).forEach(b => drawBox(ctx, a.right, Math.round(chart.scales.y.getPixelForValue(b.v)) + 0.5, b));
      ctx.restore();
    }
  };
}

function makeChart(id, datasets, yCfg, showX, cfg) {
  return new Chart(document.getElementById(id), {
    type: 'line',
    data: { datasets },
    options: {
      responsive: false, maintainAspectRatio: false, animation: false, devicePixelRatio: 1,
      layout: { padding: { left: 17, right: 0, top: 0, bottom: 0 } },
      plugins: { legend: { display: false }, tooltip: { enabled: false } },
      elements: { point: { radius: 0 }, line: { tension: 0 } },
      scales: { x: xAxis(showX), y: yCfg }
    },
    plugins: [panelPlugin(cfg)]
  });
}
const line = (data, color, width, extra) => Object.assign({ type: 'line', data: pts(data), borderColor: color, borderWidth: width, pointRadius: 0, fill: false, order: 0 }, extra || {});

// ---------------- RSI ----------------
const refColor = '#687a68';
makeChart('cRsi', [ line(rsi14, '#000', 1) ],
  yAxis(-5.43, 107, rsiTicks, v => (v % 20 === 10) ? String(v) : ''), false,
  { lines: [{v: 70, color: refColor}, {v: 30, color: refColor}, {v: 50, color: refColor, dash: [8, 3, 2, 3]}],
    boxes: [{v: 61.83, t: '61.83', c: '#000'}] });

// ---------------- PRICE ----------------
const cColor = days.map((d, i) => { const ref = i === 0 ? opens[i] : closes[i - 1]; return closes[i] >= ref ? '#000000' : RED; });
const bodyFill = days.map((d, i) => closes[i] > opens[i] ? 'rgba(0,0,0,0)' : cColor[i]);
const priceChart = makeChart('cPrice', [
  line(bbUpper, '#aab0b7', 1, { fill: '+1', backgroundColor: 'rgba(160,175,180,0.33)', order: 20 }),
  line(bbLower, '#aab0b7', 1, { order: 21 }),
  line(bbMiddle, '#9c9ca6', 1, { borderDash: [2, 2], order: 19 }),
  line(ma200, '#9933ff', 1.2, { order: 4 }),
  line(ma100, '#ff00ff', 1.2, { order: 3 }),
  line(ma50, '#1e3320', 1.3, { order: 2 }),
  line(ma10, RED, 1.1, { order: 1 }),
  { type: 'bar', data: days.map((d, i) => ({x: d, y: [lows[i], highs[i]]})), backgroundColor: cColor, borderWidth: 0, barThickness: 1, grouped: false, order: 11 },
  { type: 'bar', data: days.map((d, i) => ({x: d, y: [opens[i], closes[i]]})), backgroundColor: bodyFill, borderColor: cColor, borderWidth: 1, borderSkipped: false, barThickness: 4, minBarLength: 1, grouped: false, order: 10 }
], yAxis(1037.7, 1217.2, priceTicks, v => String(v), 'logarithmic'), true,
  { xRow: true,
    highlight: { d0: 246.15, d1: 247.85, v0: 1209.3, v1: 1202.0, color: '#ffff33' },
    boxes: [
      {v: 1214.19, t: '1214.19', c: '#9a9a9a'}, {v: 1136.91, t: '1136.91', c: '#9a9a9a'}, {v: 1175.55, t: '1175.55', c: '#9a9a9a'},
      {v: 1149.09, t: '1149.09', c: '#9933ff'}, {v: 1147.26, t: '1147.26', c: '#ff00ff'}, {v: 1159.72, t: '1159.72', c: '#1e3320'},
      {v: 1206.79, t: '1206.79', c: '#000', bold: true}] });

// ---------------- MACD ----------------
const histStyle = { type: 'bar', backgroundColor: '#4b9bd0', borderColor: '#1f4e74', borderWidth: 1, barThickness: 4.36, grouped: false };
const histData = days.map((d, i) => ({x: d, y: macdHist[i]}));
makeChart('cMacd', [
  line(macdLine, '#000', 2, { order: 0 }),
  line(macdSignal, '#ff0000', 1, { order: 1 }),
  Object.assign({ data: histData, order: 5 }, histStyle)
], yAxis(-25.29, 21.76, macdTicks, v => String(v)), false,
  { boxes: [{v: 3.707, t: '3.707', c: '#4a96cc', tc: '#4a96cc'}, {v: 5.818, t: '5.818', c: '#ff0000', tc: '#ff0000'}, {v: 9.525, t: '9.525', c: '#000'}] });

// ---------------- HIST ----------------
const histChart = makeChart('cHist', [ Object.assign({ data: histData, order: 5 }, histStyle) ],
  yAxis(-9.09, 12.52, histTicks, v => v.toFixed(1)), false,
  { boxes: [{v: 3.707, t: '3.707', c: '#4a96cc'}] });

// ---------------- STO ----------------
makeChart('cSto', [ line(stoK, '#000', 1.8, { order: 0 }), line(stoD, '#ff0000', 1, { order: 1 }) ],
  yAxis(-4.3, 107.07, stoTicks, v => (v === 20 || v === 50 || v === 80) ? String(v) : ''), false,
  { lines: [{v: 80, color: '#6a6a6a'}, {v: 20, color: '#6a6a6a'}, {v: 50, color: '#6a6a6a', dash: [8, 3, 2, 3]}],
    boxes: [{v: 97.20, t: '97.20', c: '#ff0000'}, {v: 96.92, t: '96.92', c: '#000'}] });

// ---------------- ADX ----------------
makeChart('cAdx', [ line(adx14, '#000', 2, { order: 0 }), line(plusDI, '#5c7272', 1, { order: 1 }), line(minusDI, '#c41e4a', 1, { order: 2 }) ],
  yAxis(5.41, 49.5, adxTicks, v => String(v)), true,
  { xRow: true, boxes: [{v: 26.28, t: '26.28', c: '#3a4a4a'}, {v: 18.86, t: '18.86', c: '#c41e4a'}, {v: 17.03, t: '17.03', c: '#000'}] });

// ---------------- HAND-DRAWN ANNOTATIONS (data coordinates) ----------------
const annotLines = [
  {p: 'price', a: [124.2, 1213.7], b: [153.1, 1126.0], color: '#000', w: 2.5, dash: []},
  {p: 'price', a: [122.1, 1169.4], b: [143.9, 1108.8], color: '#000', w: 2.5, dash: []},
  {p: 'price', a: [92.3, 1083.9], b: [129.7, 1193.6], color: '#111', w: 2.5, dash: [3, 2]},
  {p: 'price', a: [148.5, 1140.6], b: [166.1, 1183.6], color: '#343a34', w: 2.5, dash: [7, 4]},
  {p: 'price', a: [147.1, 1109.6], b: [170.3, 1172.3], color: '#343a34', w: 2.5, dash: [7, 4]},
  {p: 'price', a: [168.0, 1183.6], b: [210.9, 1115.9], color: '#343a34', w: 2.5, dash: [7, 4]},
  {p: 'price', a: [168.0, 1182.2], b: [174.6, 1160.7], color: '#0000ee', w: 2, dash: [3, 2]},
  {p: 'price', a: [167.3, 1166.5], b: [173.0, 1156.3], color: '#0000ee', w: 2, dash: [3, 2]},
  {p: 'price', a: [92.3, 1084.0], b: [193.0, 1084.0], color: '#0000ee', w: 2.5, dash: [5, 3]},
  {p: 'price', a: [106.0, 1155.2], b: [134.5, 1155.2], color: '#0000ee', w: 2.5, dash: [5, 3]},
  {p: 'price', a: [126.7, 1170.8], b: [165.0, 1170.8], color: '#0000ee', w: 2.5, dash: [5, 3]},
  {p: 'price', a: [135.2, 1134.1], b: [151.2, 1134.1], color: '#0000ee', w: 2.5, dash: [5, 3]},
  {p: 'price', a: [147.0, 1111.0], b: [186.8, 1111.0], color: '#0000ee', w: 2.5, dash: [5, 3]},
  {p: 'price', a: [218.1, 1187.8], b: [261.8, 1187.8], color: '#0000ee', w: 2.5, dash: [5, 3]},
  {p: 'price', a: [117.7, 1214.0], b: [261.8, 1214.0], color: '#0000ff', w: 3, dash: []},
  {p: 'price', a: [193.7, 1141.6], b: [253.1, 1280.3], color: '#000', w: 3, dash: []},
  {p: 'price', a: [197.8, 1042.1], b: [262.5, 1182.2], color: '#000', w: 3, dash: []},
  {p: 'hist',  a: [210.9, 11.8],   b: [231.9, -3.5],   color: '#0000ff', w: 3, dash: []}
];
(function drawOverlay() {
  const ctx = document.getElementById('overlay').getContext('2d');
  const charts = { price: priceChart, hist: histChart };
  annotLines.forEach(l => {
    const ch = charts[l.p], top = ch.canvas.offsetTop;
    const x1 = ch.scales.x.getPixelForValue(l.a[0]), y1 = top + ch.scales.y.getPixelForValue(l.a[1]);
    const x2 = ch.scales.x.getPixelForValue(l.b[0]), y2 = top + ch.scales.y.getPixelForValue(l.b[1]);
    ctx.save();
    ctx.strokeStyle = l.color; ctx.lineWidth = l.w; ctx.setLineDash(l.dash); ctx.lineCap = 'butt';
    ctx.beginPath(); ctx.moveTo(x1, y1); ctx.lineTo(x2, y2); ctx.stroke();
    ctx.restore();
  });
})();
</script>
</body></html>
